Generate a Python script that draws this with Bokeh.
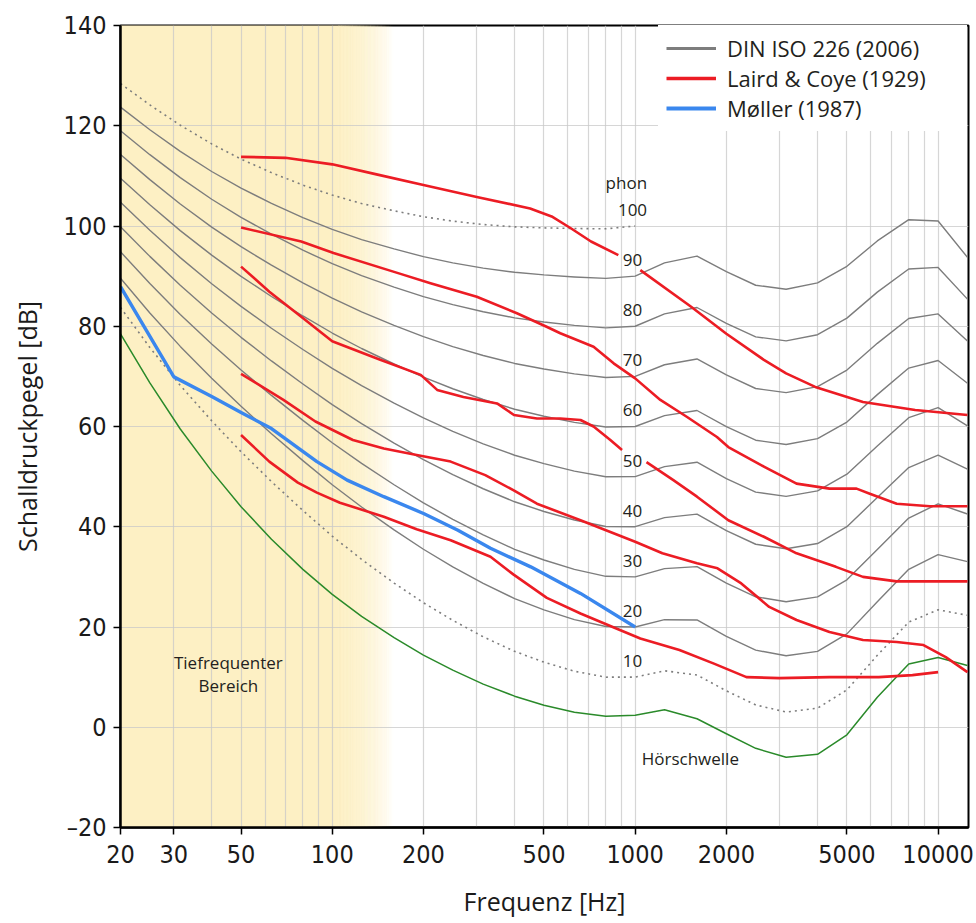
import numpy as np
from bokeh.plotting import figure
from bokeh.models import FixedTicker, BasicTickFormatter, Legend, LegendItem
from bokeh.core.properties import value
from bokeh.embed import file_html
from bokeh.resources import INLINE

# ---------------- data ----------------
freqs = [20, 25, 31.5, 40, 50, 63, 80, 100, 125, 160, 200, 250, 315, 400, 500, 630,
         800, 1000, 1250, 1600, 2000, 2500, 3150, 4000, 5000, 6300, 8000, 10000, 12500]

iso_10 = [83.75, 75.76, 68.21, 61.13, 54.96, 49.01, 43.24, 38.13, 33.48, 28.77, 24.84, 21.33, 18.05, 15.14, 12.98,
          11.18, 9.99, 10.00, 11.26, 10.43, 7.27, 4.45, 3.04, 3.80, 7.46, 14.35, 20.98, 23.43, 22.33]
iso_20 = [89.58, 82.65, 75.98, 69.62, 64.02, 58.55, 53.19, 48.38, 43.94, 39.37, 35.51, 31.99, 28.69, 25.67, 23.43,
          21.48, 20.10, 20.00, 21.46, 21.40, 18.15, 15.38, 14.26, 15.14, 18.63, 25.02, 31.52, 34.43, 33.04]
iso_30 = [94.85, 88.52, 82.36, 76.46, 71.26, 66.20, 61.22, 56.76, 52.64, 48.38, 44.78, 41.47, 38.36, 35.50, 33.37,
          31.49, 30.11, 30.00, 31.65, 32.04, 28.76, 26.03, 25.05, 26.02, 29.42, 35.48, 41.74, 44.57, 42.55]
iso_40 = [99.85, 93.94, 88.17, 82.63, 77.79, 73.08, 68.48, 64.37, 60.59, 56.70, 53.41, 50.40, 47.58, 44.98, 43.05,
          41.34, 40.06, 40.01, 41.82, 42.51, 39.23, 36.51, 35.61, 36.65, 40.01, 45.83, 51.80, 54.28, 51.49]
iso_50 = [104.72, 99.14, 93.69, 88.49, 83.96, 79.61, 75.36, 71.61, 68.17, 64.68, 61.72, 59.04, 56.55, 54.27, 52.59,
          51.10, 49.98, 50.00, 51.99, 52.88, 49.62, 46.91, 46.05, 47.15, 50.48, 56.11, 61.76, 63.78, 60.14]
iso_60 = [109.51, 104.23, 99.08, 94.18, 89.96, 85.94, 82.05, 78.65, 75.56, 72.47, 69.86, 67.53, 65.39, 63.45, 62.05,
          60.82, 59.89, 60.00, 62.16, 63.19, 59.96, 57.26, 56.42, 57.57, 60.89, 66.36, 71.66, 73.16, 68.63]
iso_70 = [114.26, 109.25, 104.38, 99.78, 95.87, 92.18, 88.64, 85.60, 82.85, 80.17, 77.92, 75.94, 74.16, 72.58, 71.47,
          70.50, 69.78, 70.00, 72.32, 73.47, 70.28, 67.58, 66.76, 67.95, 71.26, 76.59, 81.54, 82.46, 77.04]
iso_80 = [118.99, 114.23, 109.65, 105.34, 101.72, 98.36, 95.17, 92.48, 90.09, 87.82, 85.92, 84.31, 82.89, 81.68, 80.86,
          80.17, 79.67, 80.00, 82.48, 83.74, 80.59, 77.89, 77.08, 78.31, 81.62, 86.81, 91.41, 91.74, 85.41]
iso_90 = [123.71, 119.20, 114.88, 110.87, 107.55, 104.51, 101.67, 99.33, 97.29, 95.43, 93.89, 92.65, 91.60, 90.76, 90.24,
          89.84, 89.55, 90.00, 92.65, 94.00, 90.89, 88.18, 87.38, 88.66, 91.96, 97.02, 101.26, 100.99, 93.75]
iso_100_freqs = [20, 25, 31.5, 40, 50, 63, 80, 100, 125, 160, 200, 250, 315, 400, 500, 630, 800, 1000]
iso_100 = [128.41, 124.15, 120.11, 116.38, 113.35, 110.65, 108.16, 106.17, 104.48, 103.03, 101.85, 100.97, 100.30,
           99.83, 99.62, 99.50, 99.44, 100.00]
hoerschwelle = [78.5, 68.7, 59.5, 51.1, 44.0, 37.5, 31.5, 26.5, 22.1, 17.9, 14.4, 11.4, 8.6, 6.2, 4.4, 3.0, 2.2, 2.4,
                3.5, 1.7, -1.3, -4.2, -6.0, -5.4, -1.5, 6.0, 12.6, 13.9, 12.3]

# Laird & Coye (1929)
laird1a_f = [50, 70, 100, 140, 200, 300, 450, 530, 615, 715, 880]
laird1a_db = [113.8, 113.6, 112.3, 110.3, 108.2, 105.8, 103.5, 101.9, 99.5, 96.9, 94.2]
laird1b_f = [1040, 1530, 2000, 2660, 3150, 3930, 5650, 8400, 12500]
laird1b_db = [91.2, 83.9, 78.5, 73.3, 70.6, 67.9, 64.9, 63.3, 62.3]
laird2_f = [50, 79, 101, 167, 211, 300, 407, 510, 566, 729, 849, 1000, 1211, 1484, 1862, 2030, 2660, 3410,
            4380, 5380, 5950, 7300, 9400, 12500]
laird2_db = [99.7, 96.9, 94.6, 90.5, 88.6, 85.9, 82.6, 79.9, 78.6, 75.9, 72.6, 69.6, 65.3, 61.9, 57.9, 55.9, 52.0,
             48.6, 47.6, 47.6, 46.6, 44.6, 44.1, 44.1]
laird3a_f = [50, 62, 79, 100, 144, 196, 222, 271, 350, 398, 474, 566, 660, 729, 828, 905]
laird3a_db = [91.9, 86.9, 81.9, 77.0, 73.3, 70.3, 67.3, 65.9, 64.6, 62.3, 61.6, 61.6, 61.3, 60.0, 57.3, 55.3]
laird3b_f = [1090, 1337, 1600, 2030, 2660, 3410, 4600, 5650, 7300, 12500]
laird3b_db = [52.9, 49.3, 46.0, 41.3, 38.0, 34.7, 32.0, 30.0, 29.1, 29.1]
laird4_f = [50, 69, 88, 117, 148, 190, 246, 320, 396, 474, 660, 1000, 1230, 1600, 1870, 2240, 2770, 3410, 4380,
            5650, 7300, 8950, 10600, 12500]
laird4_db = [70.5, 65.3, 61.0, 57.3, 55.6, 54.3, 53.0, 50.3, 47.3, 44.6, 41.3, 37.0, 34.7, 32.7, 31.7, 28.7, 24.0,
             21.4, 19.0, 17.4, 17.0, 16.4, 14.0, 11.0]
laird5_f = [50, 62, 77, 89, 106, 148, 190, 246, 333, 396, 511, 660, 843, 1040, 1400, 1820, 2330, 2990, 4380,
            6370, 8230, 10000]
laird5_db = [58.3, 53.0, 48.8, 46.8, 44.8, 42.0, 39.5, 37.3, 34.0, 30.5, 25.8, 22.7, 20.0, 17.7, 15.4, 12.7, 10.0,
             9.8, 10.0, 10.0, 10.4, 11.0]

# Møller (1987)
moeller_f = [20, 30, 40, 50, 63, 89, 112, 148, 201, 260, 333, 452, 660, 1000]
moeller_db = [87.9, 69.9, 66.0, 62.8, 59.6, 53.0, 49.3, 46.0, 42.6, 39.3, 35.7, 32.0, 26.7, 20.0]

phon_levels = [10, 20, 30, 40, 50, 60, 70, 80, 90, 100]
x_tick_values = [20, 30, 50, 100, 200, 500, 1000, 2000, 5000, 10000]
y_tick_values = [-20, 0, 20, 40, 60, 80, 100, 120, 140]

# ---------------- styles ----------------
GRAY = "#7d7d7d"
RED = "#ec1c24"
BLUE = "#3a87ee"
GREEN = "#2a8a2a"
YELLOW = "#fdf0c4"
TEXT = "#231f20"
FONT = "Open Sans"
TICK_FONT = "DejaVu Sans Condensed, Roboto"

p = figure(width=976, height=923, x_axis_type="log", x_range=(20, 12600), y_range=(-20, 140),
           output_backend="svg", toolbar_location=None,
           min_border_left=120, min_border_right=8, min_border_top=25, min_border_bottom=96,
           x_axis_label="Frequenz [Hz]", y_axis_label="Schalldruckpegel [dB]")
p.background_fill_color = "white"
p.border_fill_color = "white"
p.outline_line_color = "black"
p.outline_line_width = 2

# low-frequency band with a fade to white
BAND_SOLID_END = 105.0
BAND_FADE_END = 160.0
N_FADE = 40
edges = np.geomspace(BAND_SOLID_END, BAND_FADE_END, N_FADE + 1)
band_left = [20.0] + list(edges[:-1])
band_right = [BAND_SOLID_END] + list(edges[1:])
t = (np.arange(N_FADE) + 0.5) / N_FADE
band_alpha = [1.0] + list(1.0 - t)
p.quad(left=band_left, right=band_right, bottom=-20, top=140, fill_color=YELLOW,
       fill_alpha=band_alpha, line_color=YELLOW, line_alpha=band_alpha, line_width=0.6, level="image")

# grid
grid_x = [m * 10 ** k for k in range(1, 5) for m in range(1, 10) if 20 <= m * 10 ** k <= 10000]
p.xgrid.ticker = FixedTicker(ticks=grid_x)
p.xgrid.grid_line_color = "#c8c8c8"
p.xgrid.grid_line_alpha = 0.75
p.xgrid.grid_line_width = 1.2
p.ygrid.grid_line_color = "#c8c8c8"
p.ygrid.grid_line_alpha = 0.75
p.ygrid.grid_line_width = 1.2

# axes
p.xaxis.ticker = FixedTicker(ticks=x_tick_values)
p.xaxis.formatter = BasicTickFormatter(use_scientific=False)
p.yaxis.ticker = FixedTicker(ticks=y_tick_values)
p.yaxis.major_label_overrides = {-20: "\u201320"}
for ax in (p.xaxis, p.yaxis):
    ax.axis_line_color = "black"
    ax.axis_line_width = 2.5
    ax.major_tick_line_color = "black"
    ax.major_tick_line_width = 1.5
    ax.major_tick_out = 7
    ax.major_tick_in = 0
    ax.minor_tick_line_color = None
    ax.major_label_text_font = TICK_FONT
    ax.major_label_text_font_size = "25px"
    ax.major_label_text_color = "#1a1a1a"
    ax.axis_label_text_font = FONT
    ax.axis_label_text_font_style = "normal"
    ax.axis_label_text_font_size = "25px"
    ax.axis_label_text_color = "#1a1a1a"
p.xaxis.major_label_standoff = 10
p.xaxis.axis_label_standoff = 18
p.yaxis.major_label_standoff = 7
p.yaxis.axis_label_standoff = 17

# ISO 226 curves
for curve in (iso_20, iso_30, iso_40, iso_50, iso_60, iso_70, iso_80, iso_90):
    p.line(freqs, curve, line_color=GRAY, line_width=1.4, line_join="round")
p.line(freqs, iso_10, line_color=GRAY, line_width=1.6, line_dash="2 4")
p.line(iso_100_freqs, iso_100, line_color=GRAY, line_width=1.6, line_dash="2 4")

# hearing threshold
p.line(freqs, hoerschwelle, line_color=GREEN, line_width=1.5, line_join="round")

# Laird & Coye
for fx, db in ((laird1a_f, laird1a_db), (laird1b_f, laird1b_db), (laird2_f, laird2_db),
               (laird3a_f, laird3a_db), (laird3b_f, laird3b_db), (laird4_f, laird4_db),
               (laird5_f, laird5_db)):
    p.line(fx, db, line_color=RED, line_width=2.6, line_join="round")

# Møller
p.line(moeller_f, moeller_db, line_color=BLUE, line_width=3.4, line_join="round")

# phon labels
PHON_LABEL_F = 980
PHON_LABEL_OFFSET = 3.2
p.text(x=[PHON_LABEL_F] * len(phon_levels), y=[v + PHON_LABEL_OFFSET for v in phon_levels],
       text=[str(v) for v in phon_levels], text_font=value(FONT), text_font_size="17px",
       text_align="center", text_baseline="middle", text_color=TEXT)
p.text(x=[935], y=[108.6], text=["phon"], text_font=value(FONT), text_font_size="17px",
       text_align="center", text_baseline="middle", text_color=TEXT)
p.text(x=[45.4, 45.4], y=[13.0, 8.4], text=["Tiefrequenter", "Bereich"], text_font=value(FONT),
       text_font_size="17px", text_align="center", text_baseline="middle", text_color=TEXT)
p.text(x=[1521], y=[-6.2], text=["Hörschwelle"], text_font=value(FONT), text_font_size="17px",
       text_align="center", text_baseline="middle", text_color=TEXT)

# legend (off-range renderers carrying legend-sized strokes)
OFF_X = [5, 6]
OFF_Y = [-100, -100]
lg_iso = p.line(x=OFF_X, y=OFF_Y, line_color=GRAY, line_width=3)
lg_laird = p.line(x=OFF_X, y=OFF_Y, line_color=RED, line_width=3.6)
lg_moeller = p.line(x=OFF_X, y=OFF_Y, line_color=BLUE, line_width=4)
legend = Legend(items=[LegendItem(label="DIN ISO 226 (2006)", renderers=[lg_iso]),
                       LegendItem(label="Laird & Coye (1929)", renderers=[lg_laird]),
                       LegendItem(label="Møller (1987)", renderers=[lg_moeller])],
                location=(538, 696))
legend.margin = 0
legend.padding = 8
legend.spacing = 0
legend.glyph_width = 50
legend.glyph_height = 30
legend.label_height = 30
legend.label_width = 232
legend.label_standoff = 11
legend.label_text_font = FONT
legend.label_text_font_size = "22px"
legend.label_text_color = TEXT
legend.border_line_alpha = 0
legend.background_fill_color = "white"
legend.background_fill_alpha = 1
p.add_layout(legend)

open("out.html", "w").write(file_html(p, INLINE))
